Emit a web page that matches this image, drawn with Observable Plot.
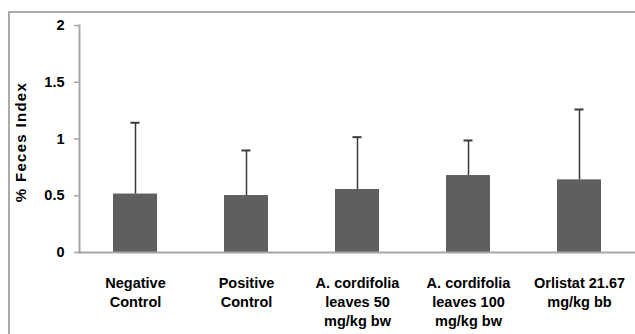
<!DOCTYPE html>
<html>
<head>
<meta charset="utf-8">
<script src="https://cdn.jsdelivr.net/npm/d3@7"></script>
<script src="https://cdn.jsdelivr.net/npm/@observablehq/plot@0.6"></script>
<style>
  html, body { margin: 0; padding: 0; background: #fff; overflow: hidden; }
  #wrap { position: relative; width: 635px; height: 334px; overflow: hidden; font-family: "Liberation Sans", Arial, sans-serif; }
  #border { position: absolute; left: 8px; top: 11px; width: 700px; height: 400px; border: 2px solid #ababab; box-sizing: border-box; }
  #chart { position: absolute; left: 0; top: 0; }
</style>
</head>
<body>
<div id="wrap"><div id="border"></div><div id="chart"></div></div>
<script>
const categories = ["Negative Control", "Positive Control", "A. cordifolia leaves 50 mg/kg bw", "A. cordifolia leaves 100 mg/kg bw", "Orlistat 21.67 mg/kg bb"];
const categoryLabels = ["Negative\nControl", "Positive\nControl", "A. cordifolia\nleaves 50\nmg/kg bw", "A. cordifolia\nleaves 100\nmg/kg bw", "Orlistat 21.67\nmg/kg bb"];
const means = [0.515, 0.502, 0.555, 0.678, 0.64];
const errors = [0.628, 0.397, 0.461, 0.309, 0.62];
const yTicks = [0, 0.5, 1, 1.5, 2];
const yTickLabels = ["0", "0.5", "1", "1.5", "2"];
const yLabel = "% Feces Index";

const data = categories.map((c, i) => ({cat: c, mean: means[i], top: means[i] + errors[i]}));
const labelOf = new Map(categories.map((c, i) => [c, categoryLabels[i]]));
const yLabelOf = new Map(yTicks.map((t, i) => [t, yTickLabels[i]]));

const chart = Plot.plot({
  width: 635,
  height: 334,
  marginLeft: 79,
  marginRight: 0,
  marginTop: 25,
  marginBottom: 82,
  style: {fontFamily: "'Liberation Sans', Arial, sans-serif", background: "transparent", overflow: "visible"},
  x: {domain: categories, paddingInner: 0.6, paddingOuter: 0.3, label: null},
  y: {domain: [0, 2], label: null},
  marks: [
    Plot.barY(data, {x: "cat", y: "mean", fill: "#5f5f5f"}),
    Plot.ruleX(data, {x: "cat", y1: "mean", y2: "top", stroke: "#3a3a3a", strokeWidth: 1.5}),
    Plot.tickY(data, {x: "cat", y: "top", stroke: "#3a3a3a", strokeWidth: 2, insetLeft: 17.5, insetRight: 17.5}),
    Plot.frame({anchor: "left", stroke: "#a6a6a6", strokeWidth: 2}),
    Plot.frame({anchor: "bottom", stroke: "#a6a6a6", strokeWidth: 2}),
    Plot.axisY({ticks: yTicks, tickSize: 5, tickPadding: 10, stroke: "#a6a6a6", strokeWidth: 1.5, fill: "#000",
      tickFormat: d => yLabelOf.get(d), fontSize: 14.5, fontWeight: "bold", label: null}),
    Plot.axisX({tickSize: 0, tickPadding: 22, tickFormat: d => labelOf.get(d), fontSize: 14.5, fontWeight: "bold",
      lineHeight: 1.3, fill: "#000", label: null}),
    Plot.text([yLabel], {frameAnchor: "left", textAnchor: "middle", dx: -58, dy: 3, rotate: -90, fontSize: 15,
      fontWeight: "bold", fill: "#000"})
  ]
});
d3.select(chart).selectAll("text").filter(function() { return this.textContent === yLabel; })
  .style("letter-spacing", "1.3px");
document.getElementById("chart").appendChild(chart);
</script>
</body>
</html>
